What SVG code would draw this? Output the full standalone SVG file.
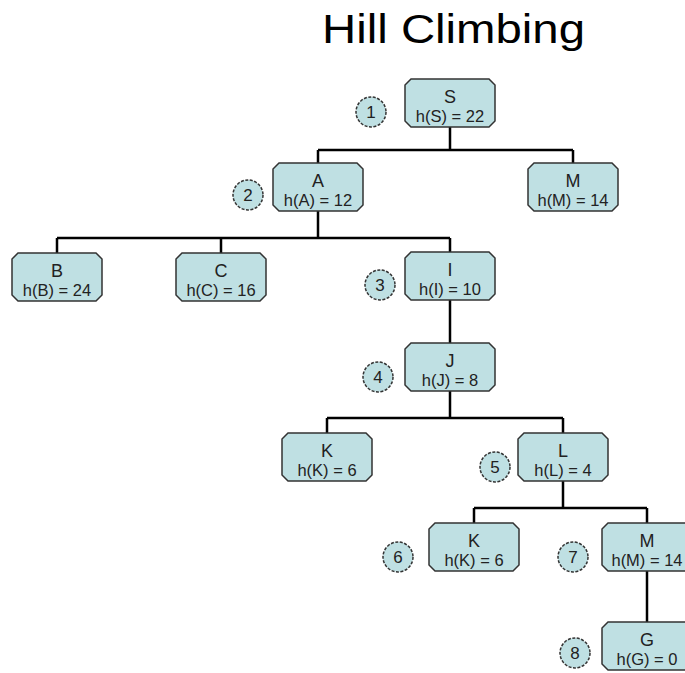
<svg xmlns="http://www.w3.org/2000/svg" xmlns:xlink="http://www.w3.org/1999/xlink" width="685" height="673" viewBox="0 0 685 673">
<style>
.box{fill:#bfe0e3;stroke:#333;stroke-width:1.5}
.circ{fill:#bfe0e3;stroke:#333;stroke-width:1.5;stroke-dasharray:3 1.5}
.lbl{font-family:"Liberation Sans",Arial,sans-serif;font-size:16.5px;fill:#222;text-anchor:middle}
.top{font-size:18px}
.num{font-size:17px}
.conn{fill:none;stroke:#000;stroke-width:2.5}
.title{font-family:"Liberation Sans",Arial,sans-serif;font-size:40px;fill:#000}
</style>
<defs>
<polygon id="box" class="box" points="6,0 84,0 90,6 90,42 84,48 6,48 0,42 0,6"/>
</defs>
<rect width="685" height="673" fill="#fff"/>
<text class="title" x="322" y="43" textLength="263" lengthAdjust="spacingAndGlyphs">Hill Climbing</text>
<g id="connectors">
<path class="conn" d="M450,127 V150 M318,150 H573 M318,150 V163 M573,150 V163"/>
<path class="conn" d="M318,211 V238 M57,238 H450 M57,238 V253 M221,238 V253 M450,238 V252"/>
<path class="conn" d="M450,300 V343"/>
<path class="conn" d="M450,391 V418 M327,418 H563 M327,418 V433 M563,418 V433"/>
<path class="conn" d="M563,481 V508 M474,508 H647 M474,508 V523 M647,508 V523"/>
<path class="conn" d="M647,571 V622"/>
</g>
<g id="node-S"><use xlink:href="#box" x="405" y="79"/><text class="lbl top" x="450" y="103">S</text><text class="lbl" x="450" y="122">h(S) = 22</text></g>
<g id="node-A"><use xlink:href="#box" x="273" y="163"/><text class="lbl top" x="318" y="187">A</text><text class="lbl" x="318" y="206">h(A) = 12</text></g>
<g id="node-M"><use xlink:href="#box" x="528" y="163"/><text class="lbl top" x="573" y="187">M</text><text class="lbl" x="573" y="206">h(M) = 14</text></g>
<g id="node-B"><use xlink:href="#box" x="12" y="253"/><text class="lbl top" x="57" y="277">B</text><text class="lbl" x="57" y="296">h(B) = 24</text></g>
<g id="node-C"><use xlink:href="#box" x="176" y="253"/><text class="lbl top" x="221" y="277">C</text><text class="lbl" x="221" y="296">h(C) = 16</text></g>
<g id="node-I"><use xlink:href="#box" x="405" y="252"/><text class="lbl top" x="450" y="276">I</text><text class="lbl" x="450" y="295">h(I) = 10</text></g>
<g id="node-J"><use xlink:href="#box" x="405" y="343"/><text class="lbl top" x="450" y="367">J</text><text class="lbl" x="450" y="386">h(J) = 8</text></g>
<g id="node-K"><use xlink:href="#box" x="282" y="433"/><text class="lbl top" x="327" y="457">K</text><text class="lbl" x="327" y="476">h(K) = 6</text></g>
<g id="node-L"><use xlink:href="#box" x="518" y="433"/><text class="lbl top" x="563" y="457">L</text><text class="lbl" x="563" y="476">h(L) = 4</text></g>
<g id="node-K2"><use xlink:href="#box" x="429" y="523"/><text class="lbl top" x="474" y="547">K</text><text class="lbl" x="474" y="566">h(K) = 6</text></g>
<g id="node-M2"><use xlink:href="#box" x="602" y="523"/><text class="lbl top" x="647" y="547">M</text><text class="lbl" x="647" y="566">h(M) = 14</text></g>
<g id="node-G"><use xlink:href="#box" x="602" y="622"/><text class="lbl top" x="647" y="646">G</text><text class="lbl" x="647" y="665">h(G) = 0</text></g>
<g id="step-1"><circle class="circ" cx="371" cy="112" r="15"/><text class="lbl num" x="371" y="118">1</text></g>
<g id="step-2"><circle class="circ" cx="248" cy="195" r="15"/><text class="lbl num" x="248" y="201">2</text></g>
<g id="step-3"><circle class="circ" cx="380" cy="285" r="15"/><text class="lbl num" x="380" y="291">3</text></g>
<g id="step-4"><circle class="circ" cx="378" cy="377" r="15"/><text class="lbl num" x="378" y="383">4</text></g>
<g id="step-5"><circle class="circ" cx="495" cy="467" r="15"/><text class="lbl num" x="495" y="473">5</text></g>
<g id="step-6"><circle class="circ" cx="398" cy="557" r="15"/><text class="lbl num" x="398" y="563">6</text></g>
<g id="step-7"><circle class="circ" cx="573" cy="557" r="15"/><text class="lbl num" x="573" y="563">7</text></g>
<g id="step-8"><circle class="circ" cx="575" cy="653" r="15"/><text class="lbl num" x="575" y="659">8</text></g>
</svg>
